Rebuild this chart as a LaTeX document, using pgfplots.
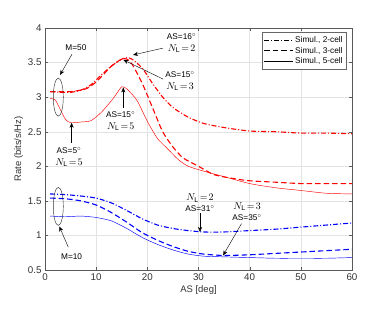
\documentclass[border=0pt]{standalone}
\usepackage{pgfplots}
\pgfplotsset{compat=1.18}
\usepackage{fontspec}
\setmainfont{Liberation Sans}
\usetikzlibrary{arrows.meta}
\begin{document}
\begin{tikzpicture}
\useasboundingbox (-45bp,-43bp) rectangle (329bp,270bp);
\begin{axis}[
  at={(0,0)}, anchor=south west,
  scale only axis, width=307bp, height=242bp,
  xmin=0, xmax=60, ymin=0.5, ymax=4,
  xtick={0,10,...,60}, ytick={0.5,1,...,4},
  yticklabels={0.5,1,1.5,2,2.5,3,3.5,4},
  grid=major, grid style={gray!22, line width=0.4pt},
  axis line style={black!65, line width=0.5pt},
  tick style={black!65}, tick align=inside, major tick length=3bp,
  tick label style={font=\fontsize{9.8}{11}\selectfont, text=black!80},
  /pgf/number format/assume math mode=true,
  xlabel={AS [deg]}, ylabel={Rate (bits/s/Hz)},
  label style={font=\fontsize{9.5}{11}\selectfont, text=black!80},
  xlabel style={yshift=2bp}, ylabel style={yshift=-2bp},
  legend style={at={(rel axis cs:0.983,0.982)}, anchor=north east,
    font=\fontsize{8.3}{10}\selectfont, draw=black!60, line width=0.5pt,
    inner sep=2bp, row sep=-1bp},
  legend cell align=left,
  legend image code/.code={\draw[#1] (0cm,0cm) -- (1.0cm,0cm);},
]
% legend entries
\addlegendimage{black, line width=0.8pt, dash pattern=on 5bp off 2bp on 1bp off 2bp}
\addlegendentry{Simul., 2-cell}
\addlegendimage{black, line width=0.8pt, dash pattern=on 5.5bp off 3bp}
\addlegendentry{Simul., 3-cell}
\addlegendimage{black, line width=0.4pt}
\addlegendentry{Simul., 5-cell}

% red (M=50)
\addplot[red, line width=1.1pt, dash pattern=on 5bp off 2bp on 1bp off 2bp, smooth, tension=0.4] coordinates {
(1,3.08) (3,3.07) (5,3.07) (7,3.10) (9,3.18) (11,3.32) (13,3.45) (15,3.55) (16,3.57) (17,3.55) (19,3.42) (21,3.20) (23,3.00) (25,2.85) (28,2.71) (31,2.62) (35,2.56) (40,2.51) (45,2.50) (50,2.48) (55,2.48) (60,2.47)};
\addplot[red, line width=1.1pt, dash pattern=on 5.5bp off 3bp, smooth, tension=0.4] coordinates {
(1,3.08) (5,3.08) (8,3.12) (10,3.22) (13,3.45) (15,3.55) (16,3.55) (17,3.48) (19,3.20) (21,2.85) (23,2.50) (25,2.28) (27,2.12) (30,2.00) (33,1.88) (37,1.82) (40,1.79) (45,1.77) (50,1.75) (55,1.75) (60,1.75)};
\addplot[red, line width=0.45pt, smooth, tension=0.4] coordinates {
(1,2.98) (2,2.96) (3,2.82) (4,2.68) (5,2.63) (7,2.64) (9,2.66) (11,2.78) (13,2.95) (14,3.05) (15,3.15) (16,3.12) (18,2.95) (20,2.65) (22,2.40) (24,2.25) (26,2.10) (28,2.00) (31,1.93) (35,1.85) (40,1.75) (45,1.69) (50,1.65) (55,1.61) (60,1.60)};

% blue (M=10)
\addplot[blue, line width=1.1pt, dash pattern=on 5bp off 2bp on 1bp off 2bp, smooth, tension=0.4] coordinates {
(1,1.60) (4,1.59) (7,1.57) (10,1.54) (13,1.47) (16,1.36) (19,1.24) (22,1.15) (25,1.10) (28,1.07) (31,1.05) (35,1.05) (40,1.07) (45,1.09) (50,1.12) (55,1.15) (60,1.18)};
\addplot[blue, line width=1.1pt, dash pattern=on 5.5bp off 3bp, smooth, tension=0.4] coordinates {
(1,1.54) (4,1.53) (7,1.50) (10,1.44) (13,1.33) (16,1.19) (19,1.04) (22,0.93) (25,0.84) (28,0.77) (31,0.73) (35,0.71) (40,0.72) (45,0.74) (50,0.76) (55,0.78) (60,0.80)};
\addplot[blue, line width=0.45pt, smooth, tension=0.4] coordinates {
(1,1.28) (4,1.27) (7,1.28) (10,1.26) (13,1.21) (16,1.10) (19,0.97) (22,0.87) (25,0.79) (28,0.73) (31,0.70) (35,0.69) (40,0.68) (45,0.67) (50,0.67) (55,0.67) (60,0.68)};

% annotations
\tikzset{ann/.style={font=\fontsize{8.3}{11}\selectfont, align=center, inner sep=0pt},
         arr/.style={-{Stealth[length=5bp, width=4bp, inset=1.5bp]}, line width=0.4pt, black}}
\newcommand{\NL}[1]{{\fontsize{10}{11}\selectfont$N_{\mathrm{L}}\!=\!#1$}}
\draw[black!80, line width=0.45pt] (axis cs:2.6,3.0) ellipse [x radius=5bp, y radius=19bp];
\draw[black!80, line width=0.45pt] (axis cs:2.6,1.42) ellipse [x radius=5bp, y radius=19bp];

\node[ann] at (axis cs:6.05,3.71) {M=50};
\draw[arr] (axis cs:5.27,3.62) -- (axis cs:2.93,3.32);

\node[ann] at (axis cs:4.7,2.13) {AS=5$^\circ$\\[1pt]\NL{5}};
\draw[arr] (axis cs:5.2,2.34) -- (axis cs:5.2,2.63);

\node[ann] at (axis cs:14.8,2.65) {AS=15$^\circ$\\[1pt]\NL{5}};
\draw[arr] (axis cs:15.3,2.85) -- (axis cs:15.3,3.14);

\node[ann] at (axis cs:26.7,3.78) {AS=16$^\circ$\\[1pt]\NL{2}};
\draw[arr] (axis cs:23.1,3.71) -- (axis cs:17.2,3.61);

\node[ann] at (axis cs:26.4,3.23) {AS=15$^\circ$\\[1pt]\NL{3}};
\draw[arr] (axis cs:23.1,3.26) -- (axis cs:15.3,3.54);

\node[ann] at (axis cs:5.2,0.69) {M=10};
\draw[arr] (axis cs:4.55,0.83) -- (axis cs:2.8,1.13);

\node[ann] at (axis cs:30.3,1.47) {\NL{2}\\[0pt]AS=31$^\circ$};
\draw[arr] (axis cs:30.3,1.32) -- (axis cs:30.3,1.05);

\node[ann] at (axis cs:39.5,1.35) {\NL{3}\\[0pt]AS=35$^\circ$};
\draw[arr] (axis cs:38.4,1.17) -- (axis cs:34.8,0.71);
\end{axis}
\end{tikzpicture}
\end{document}
